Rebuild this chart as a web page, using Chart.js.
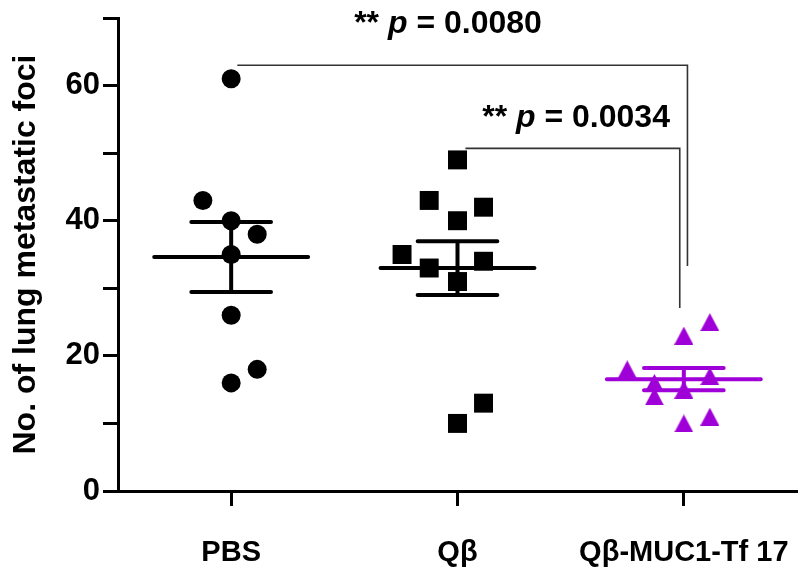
<!DOCTYPE html>
<html><head><meta charset="utf-8">
<script src="https://cdn.jsdelivr.net/npm/chart.js@4.4.1/dist/chart.umd.min.js"></script>
<style>html,body{margin:0;padding:0;background:#fff;} #c{display:block;}</style>
</head><body>
<canvas id="c" width="800" height="575"></canvas>
<script>
// ---- data ----
const categories = ['PBS', 'Qβ', 'Qβ-MUC1-Tf 17'];
const categoryPositions = [1, 2, 3];
const yTickValues = [0, 10, 20, 30, 40, 50, 60, 70];
const yTickLabels = [0, 20, 40, 60];
const pbsValues  = [61, 43, 40, 38, 35, 26, 18, 16];
const pbsJitter  = [0, -0.125, 0, 0.115, 0, 0, 0.115, 0];
const qbValues   = [49, 43, 42, 40, 35, 33, 34, 31, 13, 10];
const qbJitter   = [0, -0.125, 0.115, 0, -0.245, -0.125, 0.115, 0, 0.115, 0];
const mucValues  = [25, 23, 18, 16, 17, 15, 14, 11, 10];
const mucJitter  = [0.115, 0, -0.25, -0.13, 0.115, 0, -0.13, 0.115, 0];
const pValues    = ['0.0080', '0.0034'];

// ---- bracket / annotation geometry (layout, in axis units) ----
const brackets = [
  { x0: 1.027, x1: 3.016, top: 63.0, bottom: 33.3 },
  { x0: 2.035, x1: 2.982, top: 50.7, bottom: 27.1 }
];
const pLabelPos = [ { x: 1.958, y: 67.85 }, { x: 2.524, y: 53.8 } ];

const FONT = '"Liberation Sans", Arial, sans-serif';
const PURPLE = '#A000D8';

function mean(a){ return a.reduce((s,v)=>s+v,0)/a.length; }
function sem(a){ const m=mean(a); const v=a.reduce((s,x)=>s+(x-m)*(x-m),0)/(a.length-1); return Math.sqrt(v/a.length); }

function meanSemSegments(vals, cx){
  const m = mean(vals), e = sem(vals);
  const hw = 0.34, cw = 0.176;
  return [
    {x: cx-hw, y: m}, {x: cx+hw, y: m}, {x: cx, y: null},
    {x: cx-cw, y: m+e}, {x: cx+cw, y: m+e}, {x: cx, y: null},
    {x: cx-cw, y: m-e}, {x: cx+cw, y: m-e}, {x: cx, y: null},
    {x: cx, y: m-e}, {x: cx, y: m+e}
  ];
}
function pts(vals, jit, cx){ return vals.map((v,i)=>({x: cx + jit[i], y: v})); }
function triImg(color, w, h){
  const c = document.createElement('canvas'); c.width = w; c.height = h;
  const g = c.getContext('2d'); g.fillStyle = color;
  g.beginPath(); g.moveTo(w/2, 0); g.lineTo(w, h); g.lineTo(0, h); g.closePath(); g.fill();
  return c;
}
const lineDs = (data, color, width) => ({
  type: 'line', data, borderColor: color, borderWidth: width, pointRadius: 0,
  spanGaps: false, borderCapStyle: 'round', fill: false, tension: 0, clip: false
});
const datasets = [
  lineDs(meanSemSegments(pbsValues, 1), '#000', 4),
  lineDs(meanSemSegments(qbValues, 2), '#000', 4),
  lineDs(meanSemSegments(mucValues, 3), PURPLE, 4),
  { type: 'scatter', data: pts(pbsValues, pbsJitter, 1), pointStyle: 'circle', pointRadius: 9.5,
    backgroundColor: '#000', borderWidth: 0, clip: false },
  { type: 'scatter', data: pts(qbValues, qbJitter, 2), pointStyle: 'rect', pointRadius: 13.4,
    backgroundColor: '#000', borderWidth: 0, clip: false },
  { type: 'scatter', data: pts(mucValues, mucJitter, 3), pointStyle: triImg(PURPLE, 19, 18), pointRadius: 10,
    backgroundColor: PURPLE, borderWidth: 0, clip: false },
];
brackets.forEach(b => {
  datasets.push({ type: 'line', data: [ {x: b.x0, y: b.top}, {x: b.x1, y: b.top}, {x: b.x1, y: b.bottom} ],
    borderColor: '#333', borderWidth: 1.6, pointRadius: 0, fill: false, tension: 0, clip: false, borderJoinStyle: 'miter' });
});

const pTextPlugin = {
  id: 'ptext',
  afterDatasetsDraw(chart){
    const { ctx, scales: { x, y } } = chart;
    ctx.save();
    ctx.fillStyle = '#000';
    ctx.textBaseline = 'alphabetic';
    ctx.textAlign = 'left';
    pValues.forEach((pv, i) => {
      const parts = [
        ['** ', 'bold 32px ' + FONT],
        ['p', 'italic bold 32px ' + FONT],
        [' = ' + pv, 'bold 32px ' + FONT]
      ];
      let total = 0;
      parts.forEach(p => { ctx.font = p[1]; total += ctx.measureText(p[0]).width; });
      let cx = x.getPixelForValue(pLabelPos[i].x) - total / 2;
      const by = y.getPixelForValue(pLabelPos[i].y);
      parts.forEach(p => { ctx.font = p[1]; ctx.fillText(p[0], cx, by); cx += ctx.measureText(p[0]).width; });
    });
    ctx.restore();
  }
};

new Chart(document.getElementById('c'), {
  type: 'scatter',
  data: { datasets },
  plugins: [pTextPlugin],
  options: {
    responsive: false, animation: false,
    layout: { autoPadding: false, padding: { top: 18, right: 3, left: 0, bottom: 0 } },
    plugins: { legend: { display: false }, tooltip: { enabled: false } },
    scales: {
      x: {
        type: 'linear', min: 0.5, max: 3.5,
        afterBuildTicks: s => { s.ticks = categoryPositions.map(v => ({ value: v })); },
        ticks: {
          callback: v => categories[categoryPositions.indexOf(v)],
          color: '#000', font: { family: FONT, size: 29, weight: 'bold' },
          padding: 30, maxRotation: 0, autoSkip: false
        },
        grid: { drawOnChartArea: false, drawTicks: true, tickLength: 15, tickWidth: 3, tickColor: '#000' },
        border: { display: true, color: '#000', width: 3 },
        afterFit: s => { s.height = 84; s.paddingLeft = 0; s.paddingRight = 0; }
      },
      y: {
        type: 'linear', min: 0, max: 70,
        afterBuildTicks: s => { s.ticks = yTickValues.map(v => ({ value: v })); },
        ticks: {
          callback: v => yTickLabels.includes(v) ? String(v) : '',
          color: '#000', font: { family: FONT, size: 31, weight: 'bold' },
          padding: 3, autoSkip: false
        },
        grid: { drawOnChartArea: false, drawTicks: true, tickLength: 15, tickWidth: 3, tickColor: '#000' },
        border: { display: true, color: '#000', width: 3 },
        title: { display: true, text: 'No. of lung metastatic foci', color: '#000',
          font: { family: FONT, size: 32, weight: 'bold' }, padding: { top: 7, bottom: 0 } },
        afterFit: s => { s.width = 118; s.paddingTop = 0; s.paddingBottom = 0; }
      }
    }
  }
});
</script>
</body></html>
